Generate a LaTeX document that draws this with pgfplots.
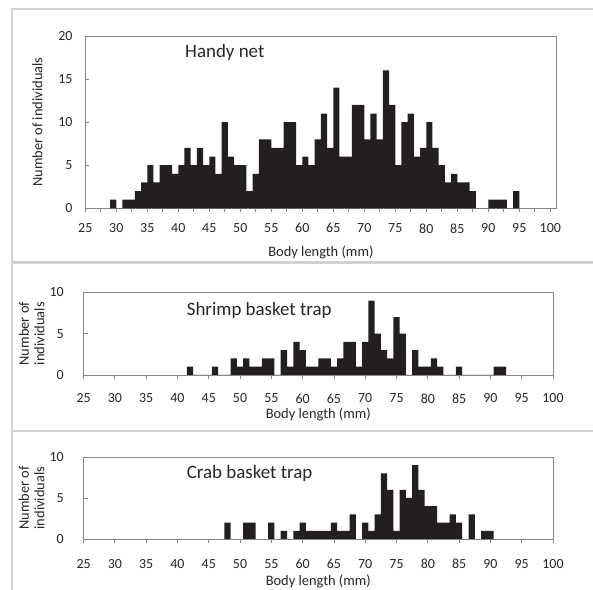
\documentclass[border=0pt]{standalone}
\usepackage{pgfplots}
\pgfplotsset{compat=1.18}
\usepackage{pgfplotstable}
\usepackage{fontspec}
\setmainfont{Carlito}

\definecolor{barfill}{HTML}{231F20}
\definecolor{framegray}{HTML}{868686}
\definecolor{panelgray}{HTML}{D2D2D2}

% Handy net: bins [len, len+1), last row closes the final interval
\pgfplotstableread{
len n
29 1
30 0
31 1
32 1
33 2
34 3
35 5
36 3
37 5
38 5
39 4
40 5
41 7
42 5
43 7
44 5
45 6
46 4
47 10
48 6
49 5
50 5
51 2
52 4
53 8
54 8
55 7
56 7
57 10
58 10
59 5
60 6
61 5
62 8
63 11
64 7
65 14
66 6
67 6
68 12
69 12
70 8
71 11
72 8
73 16
74 12
75 5
76 10
77 11
78 6
79 7
80 10
81 7
82 5
83 3
84 4
85 3
86 3
87 2
88 0
89 0
90 1
91 1
92 1
93 0
94 2
95 0
}\handy

% Shrimp basket trap: bars centred on len
\pgfplotstableread{
len n
42 1
43 0
44 0
45 0
46 1
47 0
48 0
49 2
50 1
51 2
52 1
53 1
54 2
55 2
56 0
57 3
58 1
59 4
60 3
61 1
62 1
63 2
64 2
65 1
66 2
67 4
68 4
69 1
70 4
71 9
72 5
73 3
74 2
75 7
76 5
77 0
78 3
79 1
80 1
81 2
82 1
83 0
84 0
85 1
86 0
87 0
88 0
89 0
90 0
91 1
92 1
93 0
}\shrimp

% Crab basket trap: bars centred on len
\pgfplotstableread{
len n
48 2
49 0
50 0
51 2
52 2
53 0
54 0
55 2
56 0
57 1
58 0
59 1
60 2
61 1
62 1
63 1
64 1
65 2
66 1
67 1
68 3
69 0
70 2
71 1
72 3
73 8
74 6
75 1
76 6
77 5
78 9
79 6
80 4
81 4
82 2
83 2
84 3
85 2
86 0
87 3
88 0
89 1
90 1
91 0
}\crab

\pgfplotsset{
  lenhist/.style={
    scale only axis,
    axis line style={framegray, line width=0.8bp},
    every tick/.style={framegray, line width=0.8bp},
    tick align=outside,
    major tick length=4bp,
    minor tick length=4bp,
    xtick pos=bottom, ytick pos=left,
    y tick style={xshift=4bp},
    ymin=0,
    /pgf/number format/assume math mode=true,
    tick label style={font=\fontsize{14}{16}\selectfont, text=black!85, inner sep=1bp},
    label style={font=\fontsize{14.5}{15.5}\selectfont, text=black!85, inner sep=1bp},
    xticklabel style={anchor=center},
    yticklabel style={anchor=east},
    xlabel={Body length (mm)},
    xlabel style={at={(axis description cs:0.5,0)}, anchor=center},
    ylabel style={at={(axis description cs:0,0.5)}, anchor=center},
  },
  histbars/.style={ybar interval=1, fill=barfill, draw=none},
}

\begin{document}
\begin{tikzpicture}
\clip (0bp,0bp) rectangle (593bp,590bp);
\useasboundingbox (0bp,0bp) rectangle (593bp,590bp);

% panel frames
\draw[panelgray, line width=1.2bp] (12bp,328bp) rectangle (600bp,581bp);
\draw[panelgray, line width=1.2bp] (12bp,159bp) rectangle (600bp,327bp);
\draw[panelgray, line width=1.2bp] (12bp,-10bp) rectangle (600bp,159bp);

% Handy net
\begin{axis}[lenhist,
  at={(85.3bp,381.7bp)}, anchor=south west,
  width=471.2bp, height=172.3bp,
  xmin=25, xmax=101, ymax=20,
  xtick={25,30,...,100}, minor xtick={27.5,32.5,...,97.5},
  ytick={0,5,...,20},
  xticklabel style={yshift=-16bp},
  yticklabel style={xshift=-7.7bp},
  xlabel style={yshift=-44bp},
  ylabel={Number of individuals},
  ylabel style={yshift=48bp},
]
\addplot[histbars] table[x=len, y=n] {\handy};
\end{axis}
\node[anchor=base west, font=\fontsize{19}{22}\selectfont, text=black!85] at (181.7bp,532.5bp) {Handy net};

% Shrimp basket trap
\begin{axis}[lenhist,
  at={(83.6bp,215bp)}, anchor=south west,
  width=469.4bp, height=82.7bp,
  xmin=25, xmax=100, ymax=10,
  xtick={25,30,...,100},
  ytick={0,5,10},
  xticklabel style={yshift=-19.5bp},
  yticklabel style={xshift=-14.7bp},
  xlabel style={yshift=-39.5bp},
  ylabel={Number of\\individuals}, ylabel style={align=center, yshift=52bp},
]
\addplot[histbars] table[x expr=\thisrow{len}-0.5, y=n] {\shrimp};
\end{axis}
\node[anchor=base west, font=\fontsize{19}{22}\selectfont, text=black!85] at (183.3bp,274bp) {Shrimp basket trap};

% Crab basket trap
\begin{axis}[lenhist,
  at={(83.6bp,51bp)}, anchor=south west,
  width=469.4bp, height=82bp,
  xmin=25, xmax=100, ymax=10,
  xtick={25,30,...,100},
  ytick={0,5,10},
  xticklabel style={yshift=-21bp},
  yticklabel style={xshift=-14.7bp},
  xlabel style={yshift=-42bp},
  ylabel={Number of\\individuals}, ylabel style={align=center, yshift=52bp},
]
\addplot[histbars] table[x expr=\thisrow{len}-0.5, y=n] {\crab};
\end{axis}
\node[anchor=base west, font=\fontsize{19}{22}\selectfont, text=black!85] at (183.3bp,111bp) {Crab basket trap};
\end{tikzpicture}
\end{document}
